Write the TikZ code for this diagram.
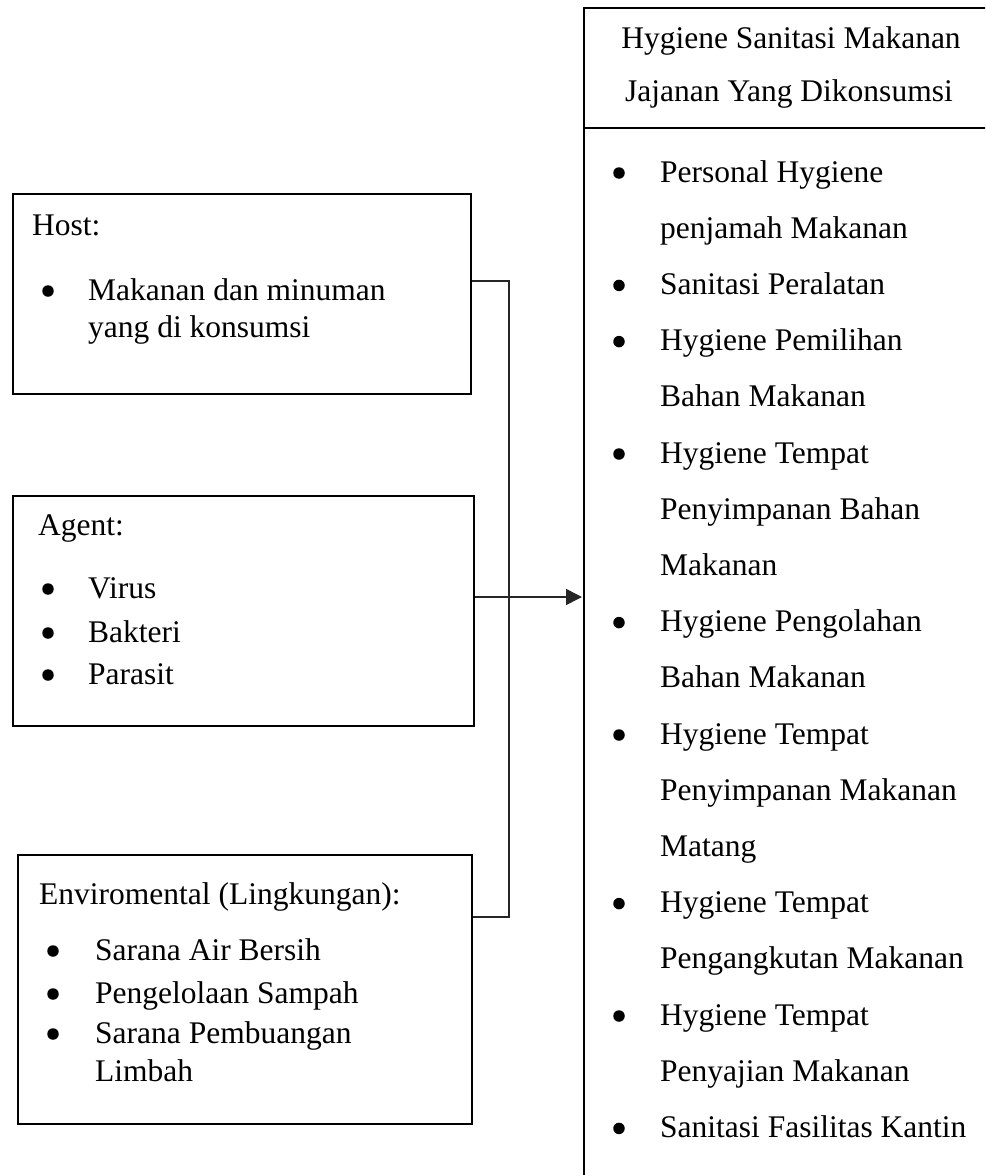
\documentclass[tikz,border=0pt]{standalone}
\usepackage{fontspec}
\setmainfont{Liberation Serif}
\usetikzlibrary{arrows.meta}
\tikzset{
  box/.style={draw=black, line width=2pt, rectangle, anchor=north west, inner sep=0pt},
  txt/.style={anchor=base west, inner sep=0pt, font=\fontsize{31.5}{36}\selectfont},
  hdr/.style={anchor=base, inner sep=0pt, font=\fontsize{31.5}{36}\selectfont},
  bul/.style={circle, fill=black, inner sep=0pt, minimum size=11.5pt},
  conn/.style={draw=black!85, line width=1.6pt},
}
\begin{document}
\begin{tikzpicture}[x=1pt,y=-1pt]
\useasboundingbox (0,0) rectangle (985,1175);
\clip (0,0) rectangle (985,1175);
\fill[white] (0,0) rectangle (985,1175);

% boxes
\node[box, minimum width=458pt, minimum height=200pt] (host) at (12,193) {};
\node[box, minimum width=461pt, minimum height=230pt] (agent) at (12,495) {};
\node[box, minimum width=454pt, minimum height=269pt] (env) at (17,854) {};
\node[box, minimum width=430pt, minimum height=1200pt] (right) at (583,7) {};
\draw[line width=2pt] (right.west |- 0,128) -- (right.east |- 0,128);

% host
\node[txt] (hostT) at (32,235) {Host:};
\node[bul] (hb1) at (48,291) {};
\node[txt] (h1) at (88,300) {Makanan dan minuman};
\node[txt] (h1b) at (88,337) {yang di konsumsi};

% agent
\node[txt] (agentT) at (38,535) {Agent:};
\node[bul] (ab1) at (48,589) {};
\node[txt] (a1) at (88,598) {Virus};
\node[bul] (ab2) at (48,633) {};
\node[txt] (a2) at (88,642) {Bakteri};
\node[bul] (ab3) at (48,675) {};
\node[txt] (a3) at (88,684) {Parasit};

% environmental
\node[txt] (envT) at (39,904) {Enviromental (Lingkungan):};
\node[bul] (eb1) at (53,951) {};
\node[txt] (e1) at (95,960) {Sarana Air Bersih};
\node[bul] (eb2) at (53,994) {};
\node[txt] (e2) at (95,1003) {Pengelolaan Sampah};
\node[bul] (eb3) at (53,1034) {};
\node[txt] (e3) at (95,1043) {Sarana Pembuangan};
\node[txt] (e3b) at (95,1081) {Limbah};

% right header
\node[hdr] (rh1) at (791,48) {Hygiene Sanitasi Makanan};
\node[hdr] (rh2) at (789,101) {Jajanan Yang Dikonsumsi};

% right list
\def\rs{56.2}
\node[bul] (rb1) at (619,{182+0*\rs-9}) {};
\node[txt] (r1) at (660,{182+0*\rs}) {Personal Hygiene};
\node[txt] (r1b) at (660,{182+1*\rs}) {penjamah Makanan};
\node[bul] (rb2) at (619,{182+2*\rs-9}) {};
\node[txt] (r2) at (660,{182+2*\rs}) {Sanitasi Peralatan};
\node[bul] (rb3) at (619,{182+3*\rs-9}) {};
\node[txt] (r3) at (660,{182+3*\rs}) {Hygiene Pemilihan};
\node[txt] (r3b) at (660,{182+4*\rs}) {Bahan Makanan};
\node[bul] (rb4) at (619,{182+5*\rs-9}) {};
\node[txt] (r4) at (660,{182+5*\rs}) {Hygiene Tempat};
\node[txt] (r4b) at (660,{182+6*\rs}) {Penyimpanan Bahan};
\node[txt] (r4c) at (660,{182+7*\rs}) {Makanan};
\node[bul] (rb5) at (619,{182+8*\rs-9}) {};
\node[txt] (r5) at (660,{182+8*\rs}) {Hygiene Pengolahan};
\node[txt] (r5b) at (660,{182+9*\rs}) {Bahan Makanan};
\node[bul] (rb6) at (619,{182+10*\rs-9}) {};
\node[txt] (r6) at (660,{182+10*\rs}) {Hygiene Tempat};
\node[txt] (r6b) at (660,{182+11*\rs}) {Penyimpanan Makanan};
\node[txt] (r6c) at (660,{182+12*\rs}) {Matang};
\node[bul] (rb7) at (619,{182+13*\rs-9}) {};
\node[txt] (r7) at (660,{182+13*\rs}) {Hygiene Tempat};
\node[txt] (r7b) at (660,{182+14*\rs}) {Pengangkutan Makanan};
\node[bul] (rb8) at (619,{182+15*\rs-9}) {};
\node[txt] (r8) at (660,{182+15*\rs}) {Hygiene Tempat};
\node[txt] (r8b) at (660,{182+16*\rs}) {Penyajian Makanan};
\node[bul] (rb9) at (619,{182+17*\rs-9}) {};
\node[txt] (r9) at (660,{182+17*\rs}) {Sanitasi Fasilitas Kantin};

% connectors
\coordinate (hj) at (509,281);
\coordinate (ej) at (509,917);
\coordinate (ay) at (0,597);
\draw[conn] (host.east |- hj) -- (hj) -- (ej) -- (env.east |- ej);
\draw[conn, -{Triangle[length=16pt,width=16pt]}] (agent.east |- ay) -- ([xshift=-1pt]right.west |- ay);
\end{tikzpicture}
\end{document}
